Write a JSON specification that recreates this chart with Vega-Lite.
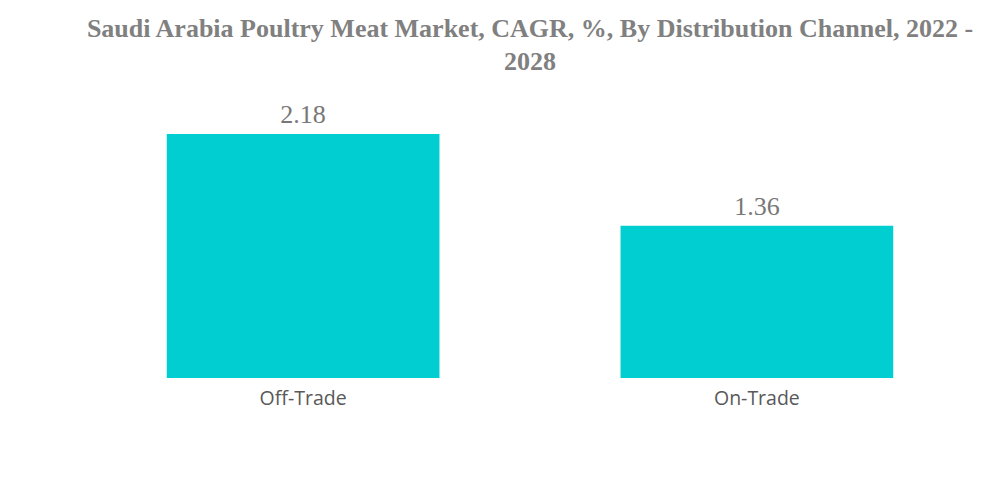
{
  "$schema": "https://vega.github.io/schema/vega-lite/v6.json",
  "description": "Saudi Arabia Poultry Meat Market, CAGR by distribution channel",
  "autosize": {"type": "none"},
  "padding": {"left": 76, "top": 134, "right": 16, "bottom": 105},
  "width": 908,
  "height": 244,
  "background": "#ffffff",
  "config": {"view": {"stroke": null}},
  "title": {
    "text": ["Saudi Arabia Poultry Meat Market, CAGR, %, By Distribution Channel, 2022 -", "2028"],
    "anchor": "middle",
    "font": "Liberation Serif",
    "fontSize": 26,
    "fontWeight": "bold",
    "color": "#808080",
    "lineHeight": 33,
    "offset": 27
  },
  "data": {
    "values": [
      {"channel": "Off-Trade", "cagr": 2.18},
      {"channel": "On-Trade", "cagr": 1.36}
    ]
  },
  "encoding": {
    "x": {
      "field": "channel",
      "type": "nominal",
      "sort": null,
      "scale": {"paddingInner": 0.399, "paddingOuter": 0.2},
      "axis": {
        "title": null,
        "labelAngle": 0,
        "ticks": false,
        "domain": false,
        "labelFont": "Open Sans",
        "labelFontSize": 19.5,
        "labelColor": "#595959",
        "labelPadding": 11
      }
    },
    "y": {
      "field": "cagr",
      "type": "quantitative",
      "scale": {"domain": [0, 2.18], "nice": false},
      "axis": null
    }
  },
  "layer": [
    {"mark": {"type": "bar", "color": "#00ced1"}},
    {
      "mark": {
        "type": "text",
        "baseline": "alphabetic",
        "dy": -11,
        "font": "Liberation Serif",
        "fontSize": 26,
        "color": "#777777"
      },
      "encoding": {"text": {"field": "cagr", "type": "quantitative", "format": ".2f"}}
    }
  ]
}
